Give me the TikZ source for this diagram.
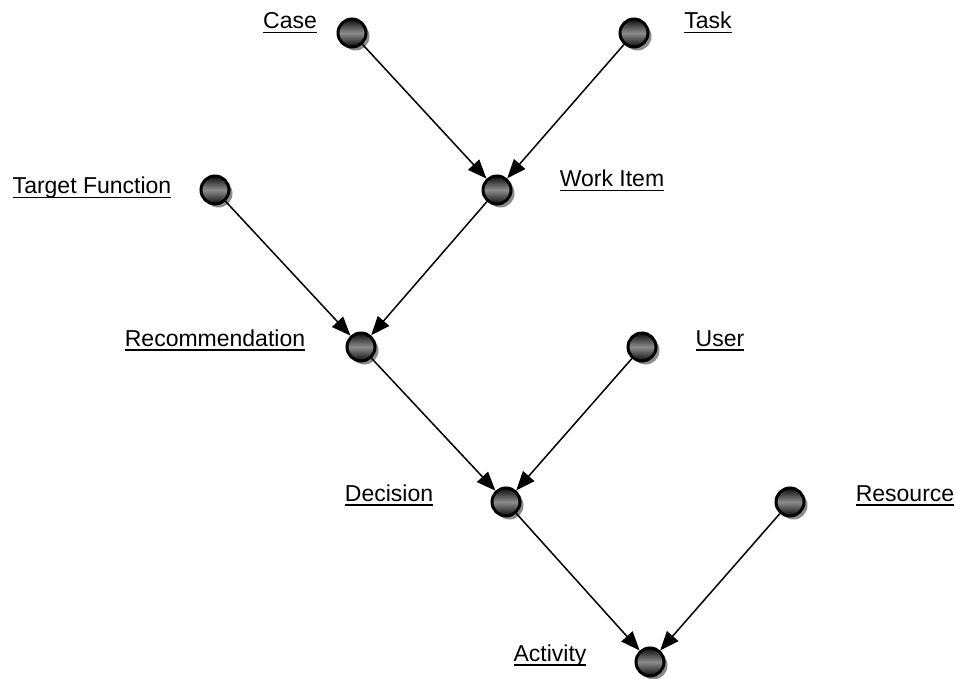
\documentclass[tikz,border=0pt]{standalone}
\usepackage{fontspec}
\setmainfont{Liberation Sans}
\usetikzlibrary{arrows.meta,shadows}
% underline with a heavier rule
\newcommand\ulabel[1]{\setbox0\hbox{#1}\rlap{\raisebox{-4.5pt}{\rule{\wd0}{1.8pt}}}\box0}
\begin{document}
\begin{tikzpicture}[x=1pt,y=-1pt,
  ball/.style={circle, minimum size=28pt, inner sep=0pt, draw=black, line width=3pt,
    top color=black!95, bottom color=black!95, middle color=black!45,
    drop shadow={shadow xshift=3.5pt, shadow yshift=-3.5pt, fill=black!45, opacity=1}},
  lbl/.style={anchor=base, inner sep=0pt, font=\fontsize{23}{27}\selectfont},
  link/.style={-{Triangle[length=19pt,width=15pt]}, line width=1.5pt}]
  \useasboundingbox (0,0) rectangle (956,679);

  % balls
  \node[ball] (case) at (352,33) {};
  \node[ball] (task) at (634,33) {};
  \node[ball] (work) at (497,190) {};
  \node[ball] (target) at (215,190) {};
  \node[ball] (rec) at (361,347) {};
  \node[ball] (user) at (642,347) {};
  \node[ball] (dec) at (506,502) {};
  \node[ball] (res) at (790,502) {};
  \node[ball] (act) at (650,662) {};

  % labels
  \node[lbl] (lcase) at (290,29) {\ulabel{Case}};
  \node[lbl] (ltask) at (708,29) {\ulabel{Task}};
  \node[lbl] (lwork) at (612,187) {\ulabel{Work Item}};
  \node[lbl] (ltarget) at (92,194) {\ulabel{Target Function}};
  \node[lbl] (lrec) at (215,346) {\ulabel{Recommendation}};
  \node[lbl] (luser) at (720,346) {\ulabel{User}};
  \node[lbl] (ldec) at (389,501) {\ulabel{Decision}};
  \node[lbl] (lres) at (905,501) {\ulabel{Resource}};
  \node[lbl] (lact) at (550,661) {\ulabel{Activity}};

  % connectors
  \draw[link] (case) -- (work);
  \draw[link] (task) -- (work);
  \draw[link] (target) -- (rec);
  \draw[link] (work) -- (rec);
  \draw[link] (rec) -- (dec);
  \draw[link] (user) -- (dec);
  \draw[link] (dec) -- (act);
  \draw[link] (res) -- (act);
\end{tikzpicture}
\end{document}
